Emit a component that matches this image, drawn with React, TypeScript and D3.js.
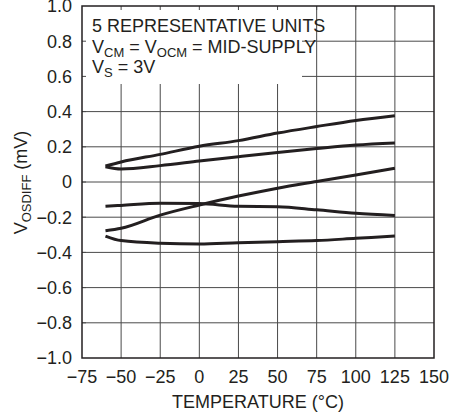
import React from "react";
import * as d3 from "d3";

const temperatures = [-60, -50, -25, 0, 25, 50, 75, 100, 125];
const unitA = [0.091, 0.114, 0.157, 0.203, 0.235, 0.278, 0.315, 0.35, 0.377];
const unitB = [0.087, 0.074, 0.093, 0.119, 0.144, 0.168, 0.19, 0.21, 0.222];
const unitC = [-0.277, -0.263, -0.188, -0.131, -0.08, -0.035, 0.003, 0.04, 0.078];
const unitD = [-0.138, -0.133, -0.121, -0.122, -0.138, -0.14, -0.158, -0.178, -0.19];
const unitE = [-0.307, -0.333, -0.348, -0.352, -0.345, -0.339, -0.333, -0.32, -0.307];
const units = [unitA, unitB, unitC, unitD, unitE];

const xTicks = [-75, -50, -25, 0, 25, 50, 75, 100, 125, 150];
const yTicks = [-1.0, -0.8, -0.6, -0.4, -0.2, 0, 0.2, 0.4, 0.6, 0.8, 1.0];

const W = 464;
const H = 419;
const left = 82;
const right = 434;
const top = 6;
const bottom = 358;
const ink = "#231f20";
const font = "'Liberation Sans Narrow', 'Arial Narrow', 'Liberation Sans', Arial, sans-serif";

export default function App() {
  const x = d3.scaleLinear().domain([-75, 150]).range([left, right]);
  const y = d3.scaleLinear().domain([-1, 1]).range([bottom, top]);
  const line = d3
    .line<number>()
    .x((_, i) => x(temperatures[i]))
    .y((d) => y(d))
    .curve(d3.curveMonotoneX);

  const fmtY = (v: number) => (Math.abs(v) < 1e-9 ? "0" : d3.format(".1f")(v).replace("-", "\u2212"));
  const fmtX = (v: number) => String(v).replace("-", "\u2212");

  return (
    <svg width={W} height={H} style={{ position: "absolute", left: 0, top: 0, background: "#fff" }} fontFamily={font}>
      {/* grid */}
      {xTicks.slice(1, -1).map((t) => (
        <line key={"gx" + t} x1={x(t)} x2={x(t)} y1={top} y2={bottom} stroke="#4a4a4a" strokeWidth={1} />
      ))}
      {yTicks.slice(1, -1).map((t) => (
        <line key={"gy" + t} x1={left} x2={right} y1={y(t)} y2={y(t)} stroke="#4a4a4a" strokeWidth={1} />
      ))}
      {/* annotation box */}
      <rect x={left} y={top} width={302 - left} height={84 - top} fill="#fff" />
      {xTicks.slice(1, -1).map((t) => (
        <line key={"tx" + t} x1={x(t)} x2={x(t)} y1={top} y2={top + 4} stroke="#4a4a4a" strokeWidth={1} />
      ))}
      {yTicks.slice(1, -1).map((t) => (
        <line key={"ty" + t} x1={left} x2={left + 4} y1={y(t)} y2={y(t)} stroke="#4a4a4a" strokeWidth={1} />
      ))}
      {/* frame */}
      <rect x={left} y={top} width={right - left} height={bottom - top} fill="none" stroke={ink} strokeWidth={1.5} />
      {/* curves */}
      {units.map((u, i) => (
        <path key={"u" + i} d={line(u) || ""} fill="none" stroke={ink} strokeWidth={3} strokeLinejoin="round" />
      ))}
      {/* y tick labels */}
      {yTicks.map((t) => (
        <text key={"yl" + t} x={72} y={y(t)} dy="0.36em" textAnchor="end" fontSize={18} fill={ink}>
          {fmtY(t)}
        </text>
      ))}
      {/* x tick labels */}
      {xTicks.map((t) => (
        <text key={"xl" + t} x={x(t)} y={383} textAnchor="middle" fontSize={18} fill={ink}>
          {fmtX(t)}
        </text>
      ))}
      {/* axis titles */}
      <text x={(left + right) / 2} y={408} textAnchor="middle" fontSize={18} fill={ink}>
        TEMPERATURE (°C)
      </text>
      <text transform={`translate(27, 182.5) rotate(-90)`} textAnchor="middle" fontSize={18} fill={ink}>
        V<tspan fontSize={13} dy={4}>OSDIFF</tspan>
        <tspan dy={-4}> (mV)</tspan>
      </text>
      {/* annotation */}
      <text x={92} y={32} fontSize={18} fill={ink}>
        5 REPRESENTATIVE UNITS
      </text>
      <text x={92} y={53} fontSize={18} fill={ink}>
        V<tspan fontSize={13} dy={4}>CM</tspan>
        <tspan dy={-4}> = V</tspan>
        <tspan fontSize={13} dy={4}>OCM</tspan>
        <tspan dy={-4}> = MID-SUPPLY</tspan>
      </text>
      <text x={92} y={73} fontSize={18} fill={ink}>
        V<tspan fontSize={13} dy={4}>S</tspan>
        <tspan dy={-4}> = 3V</tspan>
      </text>
    </svg>
  );
}
